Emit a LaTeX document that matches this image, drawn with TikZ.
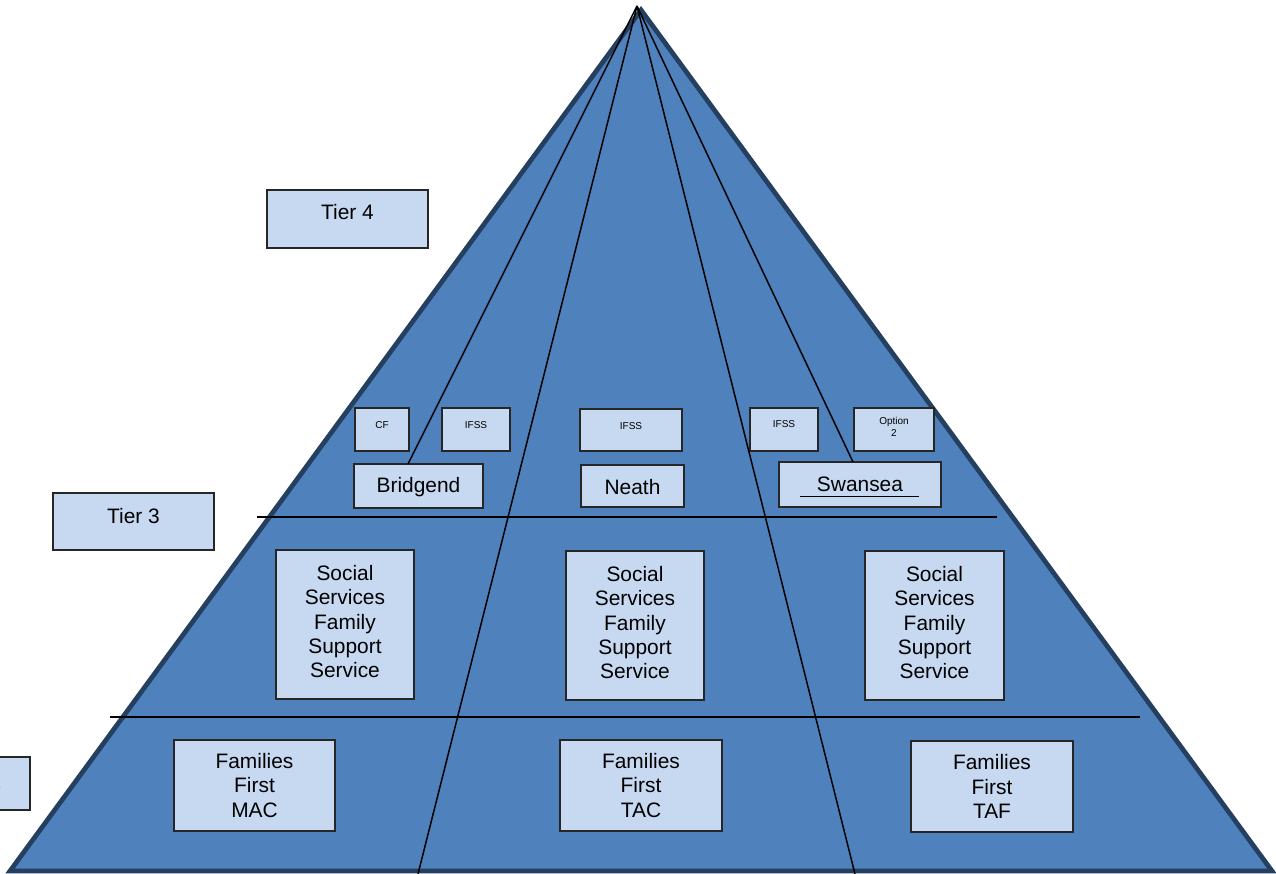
\documentclass[tikz,border=0pt]{standalone}
\usepackage{fontspec}
\setmainfont{Liberation Sans}
\definecolor{pyrfill}{HTML}{4F81BD}
\definecolor{pyredge}{HTML}{243F60}
\definecolor{boxfill}{HTML}{C6D9F1}
\tikzset{
  tbox/.style={draw=black!85, fill=boxfill, line width=0.7pt, inner sep=0pt,
    align=center, font=\fontsize{11.9}{13.9}\selectfont},
  tinybox/.style={tbox, font=\fontsize{5.7}{6.8}\selectfont},
  raised/.style={text depth=#1},
  divline/.style={black, line width=0.85pt}
}
\begin{document}
\begin{tikzpicture}[x=0.02cm, y=-0.02cm]
\useasboundingbox (0,0) rectangle (1276,874);
\clip (0,0) rectangle (1276,874);

%piramide
\draw [pyredge, fill=pyrfill, line width=2.7pt, line join=miter] (641,10) -- (10,871) -- (1272,871) -- cycle;

%caixas dos tiers
\node [tbox, raised=0.28cm, minimum width=3.22cm, minimum height=1.16cm] (tier4) at (347.5,219) {Tier 4};
\node [tbox, raised=0.24cm, minimum width=3.22cm, minimum height=1.14cm] (tier3) at (133.5,521.5) {Tier 3};
\node [tbox, raised=0.1cm, minimum width=2.2cm, minimum height=1.06cm] (tier2) at (-25,783.5) {Tier 2};

%caixas pequenas
\node [tinybox, raised=0.17cm, minimum width=1.08cm, minimum height=0.86cm] (cf) at (382,429.5) {CF};
\node [tinybox, raised=0.17cm, minimum width=1.36cm, minimum height=0.86cm] (ifssa) at (476,429.5) {IFSS};
\node [tinybox, raised=0.17cm, minimum width=2.04cm, minimum height=0.84cm] (ifssb) at (631,430) {IFSS};
\node [tinybox, raised=0.2cm, minimum width=1.36cm, minimum height=0.86cm] (ifssc) at (784,429.5) {IFSS};
\node [tinybox, raised=0.1cm, minimum width=1.6cm, minimum height=0.86cm] (option) at (894,429.5) {Option\\2};

%areas
\node [tbox, minimum width=2.58cm, minimum height=0.88cm, text height=0.34cm] (bridgend) at (418.5,486) {Bridgend};
\node [tbox, minimum width=2.06cm, minimum height=0.84cm, text height=0.34cm] (neath) at (632.5,486) {Neath};
\node [tbox, minimum width=3.24cm, minimum height=0.9cm] (swansea) at (860,484.5) {Swansea};
\draw [black, line width=0.5pt] (800,496) -- (919,496);

%tier 3
\node [tbox, raised=0.12cm, minimum width=2.76cm, minimum height=2.98cm] (ssa) at (345,624.5) {Social\\Services\\Family\\Support\\Service};
\node [tbox, raised=0.12cm, minimum width=2.76cm, minimum height=2.98cm] (ssb) at (635,625.5) {Social\\Services\\Family\\Support\\Service};
\node [tbox, raised=0.12cm, minimum width=2.78cm, minimum height=2.98cm] (ssc) at (934.5,625.5) {Social\\Services\\Family\\Support\\Service};

%tier 2
\node [tbox, minimum width=3.22cm, minimum height=1.82cm] (ffa) at (254.5,785.5) {Families\\First\\MAC};
\node [tbox, minimum width=3.24cm, minimum height=1.82cm] (ffb) at (641,785.5) {Families\\First\\TAC};
\node [tbox, minimum width=3.24cm, minimum height=1.82cm] (ffc) at (992,786.5) {Families\\First\\TAF};

%linhas do topo
\coordinate (top) at (637,6);
\coordinate (bridgendtop) at (408,464);
\coordinate (swanseatop) at (853,462);
\coordinate (baseleft) at (418,874);
\coordinate (baseright) at (855,874);
\draw [divline] (top) -- (bridgendtop);
\draw [divline] (top) -- (swanseatop);
\draw [divline] (top) -- (baseleft);
\draw [divline] (top) -- (baseright);

%divisoes dos tiers
\coordinate (t3l) at (257,517);
\coordinate (t3r) at (997,517);
\coordinate (t2l) at (110,717);
\coordinate (t2r) at (1140,717);
\draw [divline] (t3l) -- (t3r);
\draw [divline] (t2l) -- (t2r);

\end{tikzpicture}
\end{document}
